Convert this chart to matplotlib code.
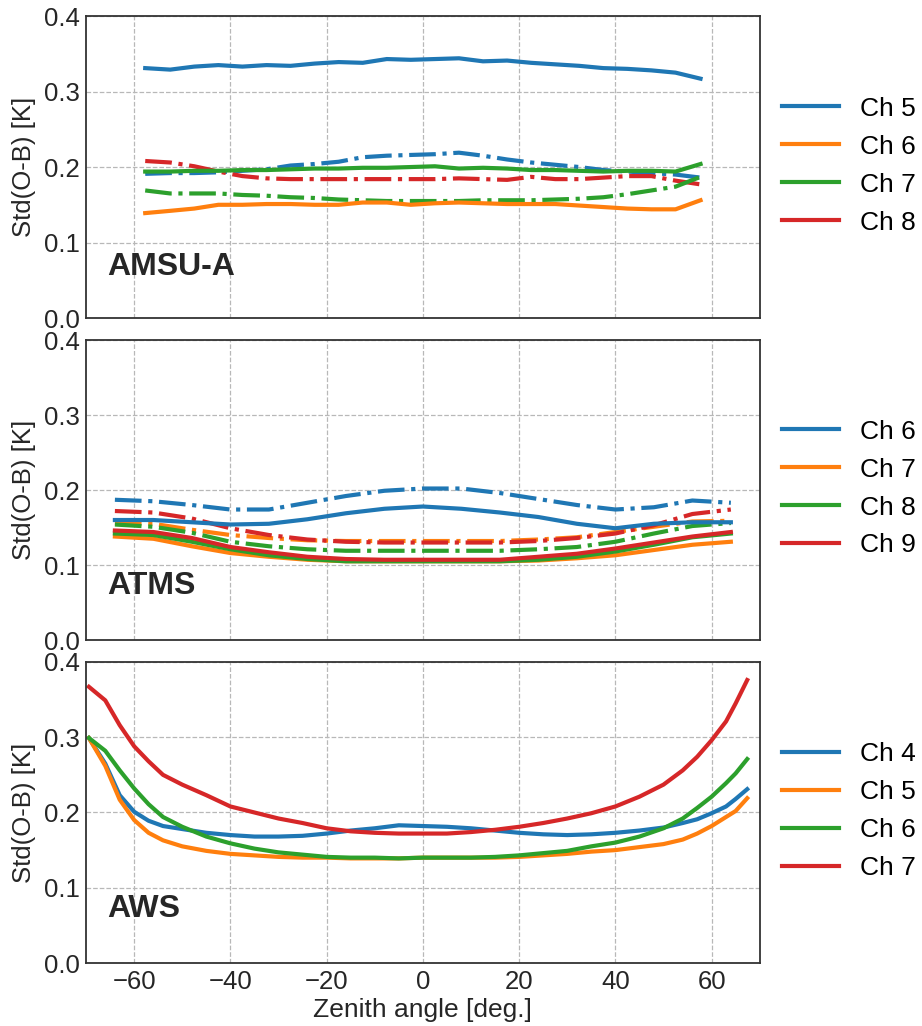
import matplotlib
matplotlib.use("Agg")
import matplotlib.pyplot as plt

plt.rcParams['font.family'] = ['Liberation Sans', 'DejaVu Sans']

# ---------------- AMSU-A ----------------
amsu_x = [-57.7, -52.5, -47.5, -42.5, -37.5, -32.5, -27.5, -22.5, -17.5, -12.5, -7.5, -2.5,
          2.5, 7.5, 12.5, 17.5, 22.5, 27.5, 32.5, 37.5, 42.5, 47.5, 52.5, 57.7]
amsu_ch5 = [0.331, 0.329, 0.333, 0.335, 0.333, 0.335, 0.334, 0.337, 0.339, 0.338, 0.343, 0.342,
            0.343, 0.344, 0.340, 0.341, 0.338, 0.336, 0.334, 0.331, 0.330, 0.328, 0.325, 0.317]
amsu_ch6 = [0.139, 0.142, 0.145, 0.150, 0.150, 0.151, 0.151, 0.150, 0.150, 0.153, 0.153, 0.150,
            0.152, 0.153, 0.152, 0.151, 0.151, 0.151, 0.149, 0.147, 0.145, 0.144, 0.144, 0.156]
amsu_ch7 = [0.194, 0.194, 0.195, 0.195, 0.196, 0.196, 0.197, 0.198, 0.198, 0.199, 0.199, 0.200,
            0.201, 0.198, 0.199, 0.198, 0.196, 0.196, 0.195, 0.194, 0.195, 0.195, 0.194, 0.204]
amsu_ch5_b = [0.191, 0.192, 0.192, 0.193, 0.195, 0.197, 0.202, 0.204, 0.207, 0.213, 0.215, 0.216,
              0.217, 0.219, 0.215, 0.210, 0.206, 0.203, 0.200, 0.196, 0.194, 0.192, 0.190, 0.186]
amsu_ch8_b = [0.208, 0.206, 0.201, 0.194, 0.188, 0.185, 0.184, 0.184, 0.184, 0.184, 0.184, 0.184,
              0.184, 0.185, 0.184, 0.183, 0.187, 0.184, 0.184, 0.186, 0.188, 0.188, 0.182, 0.177]
amsu_ch7_b = [0.169, 0.165, 0.165, 0.165, 0.163, 0.162, 0.160, 0.159, 0.157, 0.156, 0.155, 0.155,
              0.155, 0.155, 0.156, 0.156, 0.156, 0.157, 0.158, 0.160, 0.164, 0.169, 0.174, 0.187]

# ---------------- ATMS ----------------
atms_x = [-64, -56, -48, -40, -32, -24, -16, -8, 0, 8, 16, 24, 32, 40, 48, 56, 64]
atms_ch6 = [0.160, 0.160, 0.157, 0.154, 0.155, 0.161, 0.169, 0.175, 0.178, 0.175, 0.170, 0.164,
            0.155, 0.149, 0.155, 0.157, 0.157]
atms_ch7 = [0.138, 0.135, 0.125, 0.116, 0.111, 0.107, 0.105, 0.105, 0.105, 0.105, 0.105, 0.106,
            0.109, 0.113, 0.120, 0.127, 0.131]
atms_ch8 = [0.142, 0.140, 0.131, 0.121, 0.113, 0.108, 0.105, 0.105, 0.105, 0.105, 0.105, 0.107,
            0.111, 0.118, 0.127, 0.137, 0.142]
atms_ch9 = [0.146, 0.144, 0.136, 0.124, 0.117, 0.111, 0.108, 0.107, 0.107, 0.107, 0.107, 0.111,
            0.115, 0.122, 0.130, 0.138, 0.144]
atms_ch6_b = [0.187, 0.185, 0.180, 0.174, 0.174, 0.183, 0.192, 0.199, 0.202, 0.202, 0.196, 0.188,
              0.180, 0.174, 0.177, 0.186, 0.183]
atms_ch7_b = [0.156, 0.155, 0.147, 0.140, 0.136, 0.133, 0.132, 0.132, 0.132, 0.132, 0.132, 0.134,
              0.137, 0.144, 0.151, 0.158, 0.159]
atms_ch8_b = [0.154, 0.151, 0.143, 0.131, 0.125, 0.121, 0.119, 0.119, 0.119, 0.119, 0.119, 0.121,
              0.124, 0.131, 0.142, 0.152, 0.156]
atms_ch9_b = [0.172, 0.170, 0.162, 0.149, 0.140, 0.134, 0.131, 0.130, 0.130, 0.130, 0.130, 0.132,
              0.136, 0.142, 0.153, 0.168, 0.174]

# ---------------- AWS ----------------
aws_x = [-69.4, -66, -63, -60, -57, -54, -50, -45, -40, -35, -30, -25, -20, -15, -10, -5, 0,
         5, 10, 15, 20, 25, 30, 35, 40, 45, 50, 54, 57, 60, 63, 65, 67.4]
aws_ch4 = [0.299, 0.265, 0.223, 0.201, 0.189, 0.182, 0.178, 0.173, 0.170, 0.168, 0.168, 0.169,
           0.172, 0.176, 0.179, 0.183, 0.182, 0.181, 0.179, 0.176, 0.173, 0.171, 0.170, 0.171,
           0.173, 0.176, 0.180, 0.186, 0.191, 0.199, 0.208, 0.218, 0.231]
aws_ch5 = [0.299, 0.262, 0.217, 0.190, 0.173, 0.163, 0.155, 0.149, 0.145, 0.143, 0.141, 0.140,
           0.140, 0.139, 0.139, 0.139, 0.140, 0.140, 0.140, 0.140, 0.141, 0.143, 0.145, 0.148,
           0.150, 0.154, 0.158, 0.164, 0.172, 0.182, 0.194, 0.202, 0.219]
aws_ch6 = [0.299, 0.282, 0.256, 0.232, 0.211, 0.194, 0.181, 0.168, 0.159, 0.152, 0.147, 0.144,
           0.141, 0.140, 0.140, 0.139, 0.140, 0.140, 0.140, 0.141, 0.143, 0.146, 0.149, 0.155,
           0.160, 0.168, 0.179, 0.192, 0.206, 0.221, 0.239, 0.252, 0.271]
aws_ch7 = [0.367, 0.349, 0.316, 0.288, 0.268, 0.250, 0.237, 0.223, 0.208, 0.200, 0.192, 0.186,
           0.179, 0.175, 0.173, 0.172, 0.172, 0.172, 0.174, 0.177, 0.181, 0.186, 0.192, 0.199,
           0.208, 0.221, 0.237, 0.256, 0.274, 0.296, 0.321, 0.345, 0.376]

C = ['#1f77b4', '#ff7f0e', '#2ca02c', '#d62728']
LW = 3.0
TXT = '#262626'
FS = 18.5

fig = plt.figure(figsize=(9.22, 10.26), dpi=100)
L, W = 0.0933, 0.7307
boxes = [(0.6900, 0.2944), (0.3762, 0.2924), (0.0614, 0.2934)]
axes = [fig.add_axes([L, b, W, h]) for b, h in boxes]

ax = axes[0]
ax.plot(amsu_x, amsu_ch5_b, '-.', color=C[0], lw=LW)
ax.plot(amsu_x, amsu_ch8_b, '-.', color=C[3], lw=LW)
ax.plot(amsu_x, amsu_ch7_b, '-.', color=C[2], lw=LW)
ax.plot(amsu_x, amsu_ch5, '-', color=C[0], lw=LW, label='Ch 5')
ax.plot(amsu_x, amsu_ch6, '-', color=C[1], lw=LW, label='Ch 6')
ax.plot(amsu_x, amsu_ch7, '-', color=C[2], lw=LW, label='Ch 7')
ax.plot([], [], '-', color=C[3], lw=LW, label='Ch 8')
ax.text(0.031, 0.17, 'AMSU-A', transform=ax.transAxes, fontsize=23, fontweight='bold',
        va='center', ha='left', color=TXT)

ax = axes[1]
ax.plot(atms_x, atms_ch6_b, '-.', color=C[0], lw=LW)
ax.plot(atms_x, atms_ch7_b, '-.', color=C[1], lw=LW)
ax.plot(atms_x, atms_ch8_b, '-.', color=C[2], lw=LW)
ax.plot(atms_x, atms_ch9_b, '-.', color=C[3], lw=LW)
ax.plot(atms_x, atms_ch6, '-', color=C[0], lw=LW, label='Ch 6')
ax.plot(atms_x, atms_ch7, '-', color=C[1], lw=LW, label='Ch 7')
ax.plot(atms_x, atms_ch8, '-', color=C[2], lw=LW, label='Ch 8')
ax.plot(atms_x, atms_ch9, '-', color=C[3], lw=LW, label='Ch 9')
ax.text(0.031, 0.18, 'ATMS', transform=ax.transAxes, fontsize=23, fontweight='bold',
        va='center', ha='left', color=TXT)

ax = axes[2]
ax.plot(aws_x, aws_ch4, '-', color=C[0], lw=LW, label='Ch 4')
ax.plot(aws_x, aws_ch5, '-', color=C[1], lw=LW, label='Ch 5')
ax.plot(aws_x, aws_ch6, '-', color=C[2], lw=LW, label='Ch 6')
ax.plot(aws_x, aws_ch7, '-', color=C[3], lw=LW, label='Ch 7')
ax.text(0.031, 0.18, 'AWS', transform=ax.transAxes, fontsize=23, fontweight='bold',
        va='center', ha='left', color=TXT)

for i, ax in enumerate(axes):
    ax.set_xlim(-70, 70)
    ax.set_ylim(0.0, 0.4)
    ax.set_yticks([0.0, 0.1, 0.2, 0.3, 0.4])
    ax.set_xticks([-60, -40, -20, 0, 20, 40, 60])
    ax.grid(True, ls='--', color='#b8b8b8', lw=0.9)
    ax.set_axisbelow(True)
    for s in ax.spines.values():
        s.set_color('#333333')
        s.set_linewidth(1.3)
    ax.tick_params(axis='y', length=0, labelsize=FS, pad=4.5, colors=TXT)
    ax.tick_params(axis='x', length=0, labelsize=FS, pad=5, colors=TXT)
    ax.set_ylabel('Std(O-B) [K]', fontsize=FS, color=TXT, labelpad=6)
    if i < 2:
        ax.tick_params(labelbottom=False)
    ax.legend(loc='center left', bbox_to_anchor=(1.0, 0.505), frameon=False,
              fontsize=19, handlelength=2.15, borderaxespad=0.45, labelspacing=0.53,
              handletextpad=0.8)

axes[2].set_xlabel('Zenith angle [deg.]', fontsize=19, color=TXT, labelpad=3)

fig.savefig('out.png', dpi=100, facecolor='white')
